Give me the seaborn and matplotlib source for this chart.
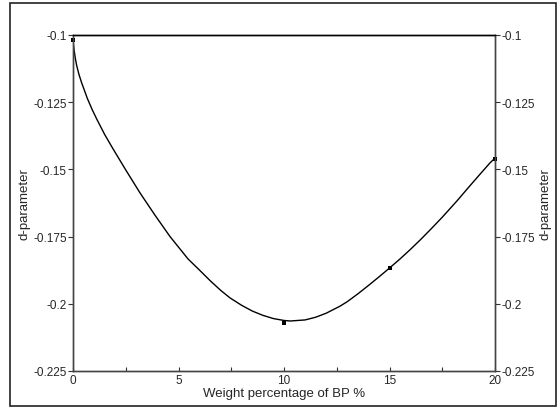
import matplotlib
matplotlib.use("Agg")
import matplotlib.pyplot as plt
import seaborn as sns
import pandas as pd
from matplotlib.patches import Rectangle
from matplotlib.ticker import MultipleLocator

# measured data points
bp_x = [0, 10, 15, 20]
d_y = [-0.102, -0.207, -0.1865, -0.146]

# smooth fitted curve
curve_x = [0, 0.05, 0.1, 0.17, 0.28, 0.41, 0.55, 0.68, 0.9, 1.12, 1.5, 1.9,
           2.5, 3.18, 3.9, 4.6, 5.45, 6.0, 6.5, 7.0, 7.44, 8.0, 8.5, 9.0,
           9.5, 10.0, 10.3, 11.0, 11.5, 12.0, 12.65, 13.0, 13.5, 14.0, 14.5,
           15.0, 15.5, 16.0, 16.5, 17.0, 17.5, 18.2, 18.8, 19.3, 19.76, 20]
curve_y = [-0.1022, -0.1055, -0.1082, -0.1112, -0.1146, -0.1178, -0.1208,
           -0.1236, -0.1276, -0.1312, -0.1370, -0.1424, -0.1502, -0.1588,
           -0.1672, -0.1750, -0.1833, -0.1875, -0.1914, -0.1950, -0.1978,
           -0.2006, -0.2027, -0.2043, -0.2055, -0.2062, -0.2064, -0.2060,
           -0.2050, -0.2035, -0.2009, -0.1992, -0.1963, -0.1932, -0.1900,
           -0.1867, -0.1833, -0.1797, -0.1759, -0.1719, -0.1678, -0.1617,
           -0.1562, -0.1517, -0.1476, -0.1458]

y_ticks = [-0.225, -0.2, -0.175, -0.15, -0.125, -0.1]
y_labels = ["-0.225", "-0.2", "-0.175", "-0.15", "-0.125", "-0.1"]
x_ticks = [0, 5, 10, 15, 20]
x_label = "Weight percentage of BP %"
y_label = "d-parameter"

sns.set_theme(style="white")
plt.rcParams["font.family"] = ["Liberation Sans", "DejaVu Sans"]

fig = plt.figure(figsize=(5.57, 4.10), dpi=100)
ax = fig.add_axes([73 / 557, 1 - 372 / 410, (495 - 73) / 557, (372 - 36) / 410])

curve_df = pd.DataFrame({"x": curve_x, "y": curve_y})
pts_df = pd.DataFrame({"x": bp_x, "y": d_y})
sns.lineplot(data=curve_df, x="x", y="y", ax=ax, color="black", linewidth=1.0,
             sort=False)
sns.scatterplot(data=pts_df, x="x", y="y", ax=ax, color="black", s=7,
                marker="s", linewidth=0, zorder=5, clip_on=False)

ax.set_xlim(0, 20)
ax.set_ylim(-0.225, -0.1)
ax.set_xticks(x_ticks)
ax.xaxis.set_minor_locator(MultipleLocator(2.5))
ax.set_yticks(y_ticks)
ax.set_yticklabels(y_labels)
ax.set_xlabel(x_label, fontsize=9.5, labelpad=1)
ax.set_ylabel(y_label, fontsize=9.5, labelpad=2)

ax.tick_params(axis="x", which="both", direction="in", length=3, width=0.8,
               labelsize=8.5, pad=2, color="#333333", bottom=True)
ax.tick_params(axis="y", which="major", direction="out", length=3.5, width=0.8,
               labelsize=8.5, pad=1, color="#333333", left=True)

for side, sp in ax.spines.items():
    sp.set_visible(True)
    sp.set_color("#444444" if side != "top" else "black")
    sp.set_linewidth(1.0)

ax2 = ax.twinx()
ax2.set_ylim(-0.225, -0.1)
ax2.set_yticks(y_ticks)
ax2.set_yticklabels(y_labels)
ax2.set_ylabel(y_label, fontsize=9.5, labelpad=3)
ax2.tick_params(axis="y", direction="out", length=3.5, width=0.8,
                labelsize=8.5, pad=1, color="#333333", right=True)
for side, sp in ax2.spines.items():
    sp.set_color("#444444" if side != "top" else "black")
    sp.set_linewidth(1.0)

# outer frame
fig.patches.append(Rectangle((10 / 557, 1 - 407 / 410), (556 - 10) / 557,
                             (407 - 4) / 410, transform=fig.transFigure,
                             fill=False, edgecolor="#222222", linewidth=1.2))

fig.savefig("out.png", dpi=100)
